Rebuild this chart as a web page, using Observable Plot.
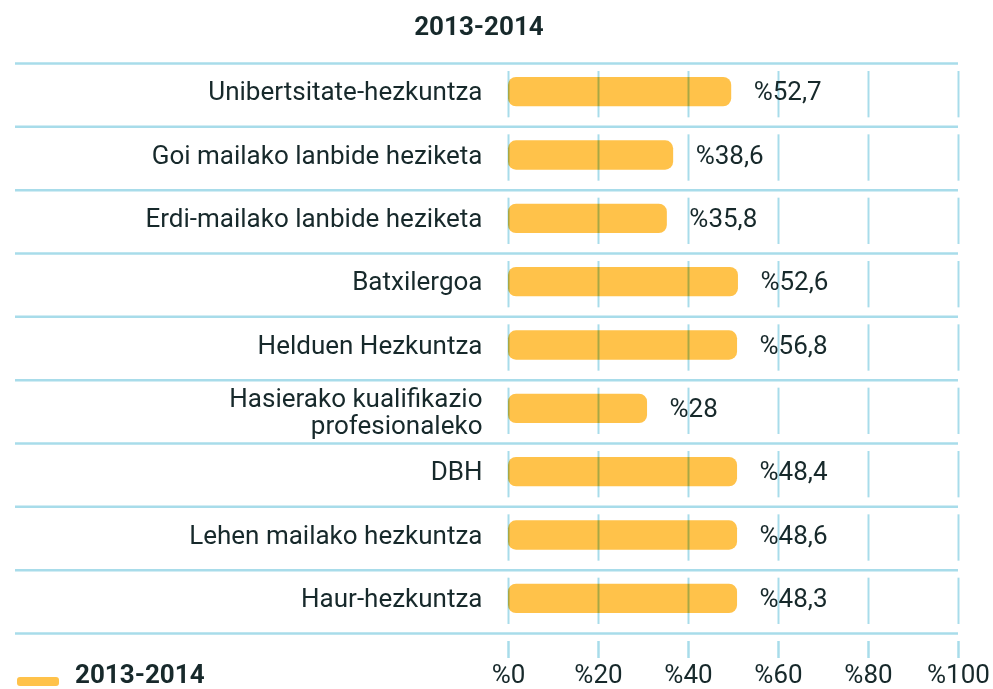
<!DOCTYPE html>
<html><head><meta charset="utf-8">
<script src="https://cdn.jsdelivr.net/npm/d3@7"></script>
<script src="https://cdn.jsdelivr.net/npm/@observablehq/plot@0.6"></script>
<style>
body{margin:0;background:#fff;font-family:Roboto,sans-serif;color:#17292b}
#wrap{position:relative;width:993px;height:689px;overflow:hidden}
#title{position:absolute;left:0;top:13px;width:958px;text-align:center;font-weight:700;font-size:26px;line-height:26px}
#chart{position:absolute;left:0;top:50px}
#legend{position:absolute;left:17px;top:661px;height:26px}
#legend .sw{position:absolute;left:0;top:16px;width:42px;height:9px;border-radius:3px;background:#ffc24a}
#legend .lt{position:absolute;left:58px;top:0;font-weight:700;font-size:26px;line-height:26px;white-space:nowrap}
</style></head><body>
<div id="wrap">
<div id="title"></div>
<div id="chart"></div>
<div id="legend"><span class="sw"></span><span class="lt"></span></div>
</div>
<script>
const seriesName = "2013-2014";
const categories = [
  "Unibertsitate-hezkuntza",
  "Goi mailako lanbide heziketa",
  "Erdi-mailako lanbide heziketa",
  "Batxilergoa",
  "Helduen Hezkuntza",
  "Hasierako kualifikazio\nprofesionaleko",
  "DBH",
  "Lehen mailako hezkuntza",
  "Haur-hezkuntza"
];
const values = [52.7, 38.6, 35.8, 52.6, 56.8, 28, 48.4, 48.6, 48.3];
const barLengths = [49.6, 36.7, 35.3, 51.1, 50.9, 30.9, 50.9, 50.9, 50.9];
const xTicks = [0, 20, 40, 60, 80, 100];

const barColor = "#ffc24a";
const gridColor = "#a8dcea";
const textColor = "#17292b";

document.getElementById("title").textContent = seriesName;
document.querySelector("#legend .lt").textContent = seriesName;

const W = 993, H = 639, mTop = 13, mBottom = 56, mLeft = 15, mRight = 35;
const zeroPx = 508;
const xMin = -100 * (zeroPx - mLeft) / (W - mRight - zeroPx);
const bw = (H - mTop - mBottom) / categories.length;

const rows = categories.map((c, i) => ({category: c, value: values[i], bar: barLengths[i]}));
const grid = rows.flatMap(r => xTicks.map(t => ({category: r.category, tick: t})));
const fmt = v => "%" + String(v).replace(".", ",");
const single = rows.filter(r => !r.category.includes("\n"));
const multi = rows.filter(r => r.category.includes("\n"));

const chart = Plot.plot({
  width: W, height: H,
  marginTop: mTop, marginBottom: mBottom, marginLeft: mLeft, marginRight: mRight,
  style: {fontFamily: "Roboto, sans-serif", fontSize: "26px", color: textColor, background: "transparent", overflow: "visible"},
  x: {domain: [xMin, 100]},
  y: {domain: categories, type: "band", paddingInner: 0, paddingOuter: 0, round: false, axis: null},
  marks: [
    Plot.ruleY(categories, {y: d => d, dy: -bw / 2, stroke: gridColor, strokeWidth: 2.5}),
    Plot.ruleY(categories.slice(-1), {y: d => d, dy: bw / 2, stroke: gridColor, strokeWidth: 2.5}),
    Plot.barX(rows, {x1: 0, x2: "bar", y: "category", insetTop: 14, insetBottom: 20, fill: barColor, rx: 8}),
    Plot.tickX(grid, {x: "tick", y: "category", insetTop: 8, insetBottom: 9, stroke: gridColor, strokeWidth: 2, mixBlendMode: "multiply"}),
    Plot.text(single, {x: 0, y: "category", text: "category", textAnchor: "end", dx: -26, dy: -3, fontSize: 26, fill: textColor}),
    Plot.text(multi, {x: 0, y: "category", text: "category", textAnchor: "end", dx: -26, dy: 0, fontSize: 26, fill: textColor, lineHeight: 1.04}),
    Plot.text(rows, {x: "bar", y: "category", text: d => fmt(d.value), textAnchor: "start", dx: 22, dy: -3, fontSize: 26, fill: textColor}),
    Plot.axisX({ticks: xTicks, tickSize: 17, dy: 8, tickPadding: 6, stroke: gridColor, strokeWidth: 2.5, fill: textColor, fontSize: 26, tickFormat: d => "%" + d})
  ]
});
document.getElementById("chart").appendChild(chart);
</script>
</body></html>
